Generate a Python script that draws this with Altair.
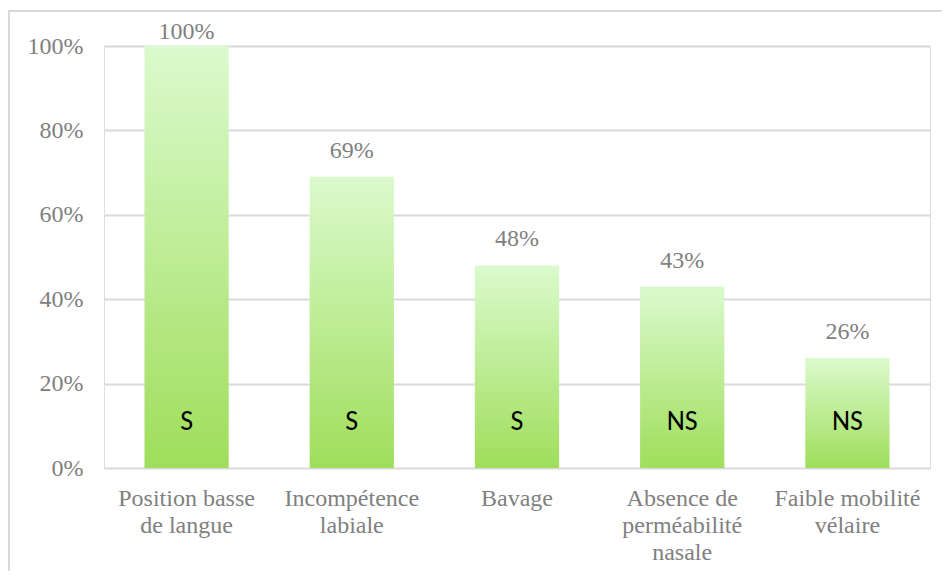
import altair as alt
import pandas as pd

categories = [
    "Position basse|de langue",
    "Incompétence|labiale",
    "Bavage",
    "Absence de|perméabilité|nasale",
    "Faible mobilité|vélaire",
]
values = [100, 69, 48, 43, 26]
significance = ["S", "S", "S", "NS", "NS"]
y_ticks = [0, 20, 40, 60, 80, 100]

df = pd.DataFrame({"cat": categories, "val": values, "sig": significance})

W, H = 826, 422
GRAY = "#808080"
SERIF = "'Liberation Serif', 'Times New Roman', 'DejaVu Serif', serif"

x_enc = alt.X(
    "cat:N",
    sort=categories,
    title=None,
    scale=alt.Scale(paddingInner=0.49, paddingOuter=0.245),
    axis=alt.Axis(
        labelExpr="split(datum.label, '|')",
        labelAngle=0,
        labelFont=SERIF,
        labelFontSize=24,
        labelColor=GRAY,
        labelLineHeight=27,
        labelPadding=18,
        labelBaseline="top",
        ticks=False,
        domain=False,
        grid=False,
    ),
)

y_scale = alt.Scale(domain=[0, 100], nice=False)

bars = alt.Chart(df).mark_bar(
    color=alt.Gradient(
        gradient="linear",
        stops=[
            alt.GradientStop(color="#dbfacd", offset=0),
            alt.GradientStop(color="#9fde5b", offset=1),
        ],
        x1=0, x2=0, y1=0, y2=1,
    )
).encode(
    x=x_enc,
    y=alt.Y(
        "val:Q",
        scale=y_scale,
        title=None,
        axis=alt.Axis(
            values=y_ticks,
            labelExpr="datum.value + '%'",
            labelFont=SERIF,
            labelFontSize=24,
            labelColor=GRAY,
            labelPadding=21,
            ticks=False,
            domain=False,
            gridColor="#d9d9d9",
            gridWidth=2,
        ),
    ),
)

top_labels = alt.Chart(df).transform_filter("datum.val < 100").mark_text(
    font=SERIF, fontSize=24, color=GRAY, baseline="alphabetic", dy=-19
).encode(
    x=alt.X("cat:N", sort=categories),
    y=alt.Y("val:Q", scale=y_scale),
    text=alt.Text("label:N"),
).transform_calculate(label="datum.val + '%'")

top_label_full = alt.Chart(df).transform_filter("datum.val >= 100").mark_text(
    font=SERIF, fontSize=24, color=GRAY, baseline="alphabetic", dy=-7
).encode(
    x=alt.X("cat:N", sort=categories),
    y=alt.Y("val:Q", scale=y_scale),
    text=alt.Text("label:N"),
).transform_calculate(label="datum.val + '%'")

sig_labels = alt.Chart(df).mark_text(
    font="Carlito, 'Liberation Sans', sans-serif", fontSize=28, color="black", baseline="middle"
).encode(
    x=alt.X("cat:N", sort=categories),
    y=alt.YDatum(11, scale=y_scale),
    text="sig:N",
)

border = alt.Chart(df).mark_rect(
    fill=None, stroke="#d9d9d9", strokeWidth=1.5
).encode(
    x=alt.value(-95), x2=alt.value(W + 60),
    y=alt.value(-35), y2=alt.value(H + 150),
)

chart = alt.layer(border, bars, top_labels, top_label_full, sig_labels).properties(
    width=W,
    height=H,
    autosize=alt.AutoSizeParams(type="none"),
    padding={"left": 96, "top": 38, "right": 12, "bottom": 103},
).configure_view(stroke=None).configure(background="white")

chart.save("out.html", embed_options={"renderer": "svg", "actions": False})
